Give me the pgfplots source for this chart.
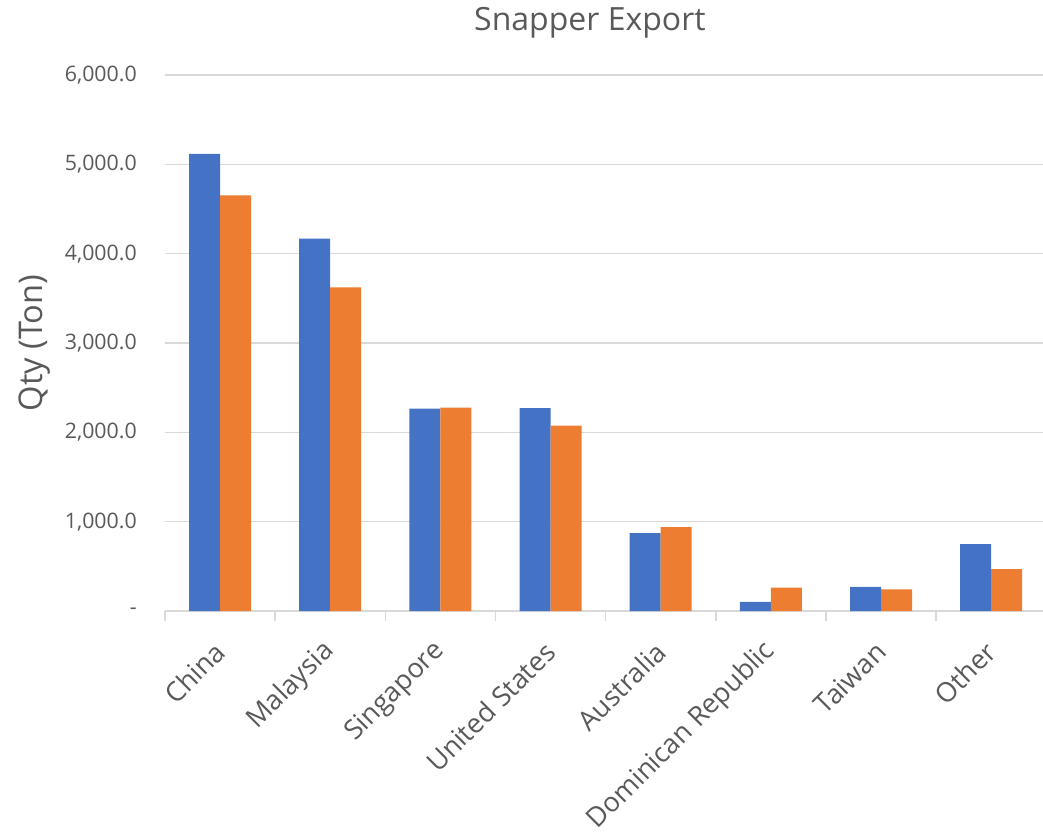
\documentclass[border=0pt]{standalone}
\usepackage{pgfplots}
\pgfplotsset{compat=1.18}
\usepackage{fontspec}
\setmainfont{Open Sans}
\definecolor{txt}{HTML}{595959}
\definecolor{grd}{HTML}{D9D9D9}
\definecolor{cblue}{HTML}{4472C4}
\definecolor{corange}{HTML}{ED7D31}
\begin{document}
\begin{tikzpicture}
\useasboundingbox (-123.75pt,-171pt) rectangle ++(782.25pt,629.25pt);
\begin{axis}[name=ax, at={(0,0)}, anchor=south west,
  scale only axis, width=658.5pt, height=402pt,
  ybar=0pt, bar width=23.25pt,
  xmin=-0.5, xmax=7.47, ymin=0, ymax=6000,
  xtick={0,...,7},
  xticklabels={China,Malaysia,Singapore,United States,Australia,Dominican Republic,Taiwan,Other},
  extra x ticks={-0.5,0.5,...,6.5},
  extra x tick labels={},
  extra x tick style={major tick length=7.5pt, tick align=outside, tick style={draw=grd, line width=1.1pt}, grid=none},
  major tick length=0pt,
  ytick={0,1000,...,6000},
  yticklabels={-,{1,000.0},{2,000.0},{3,000.0},{4,000.0},{5,000.0},{6,000.0}},
  ymajorgrids, grid style={grd, line width=1.1pt},
  axis x line*=bottom, axis y line*=left,
  y axis line style={draw=none},
  x axis line style={grd, line width=1.1pt},
  yticklabel style={font=\fontsize{16}{18}\selectfont, text=txt, inner sep=0pt, anchor=east, xshift=-21pt},
  xticklabel style={font=\fontsize{20.3}{22}\selectfont, text=txt, inner sep=0pt, anchor=east, yshift=-27pt, rotate=45},
  title={Snapper Export},
  title style={font=\fontsize{24}{28}\selectfont, text=txt, at={(0.484,1)}, anchor=base, yshift=27pt},
  ylabel={Qty (Ton)},
  ylabel style={font=\fontsize{24.5}{28}\selectfont, text=txt, at={(axis description cs:-0.148,0.5)}, anchor=center},
]
\addplot[fill=cblue, draw=none] coordinates {(0,5116) (1,4168) (2,2265) (3,2272) (4,873) (5,101) (6,270) (7,749)};
\addplot[fill=corange, draw=none] coordinates {(0,4653) (1,3623) (2,2276) (3,2075) (4,940) (5,262) (6,243) (7,468)};
\end{axis}
\end{tikzpicture}
\end{document}
